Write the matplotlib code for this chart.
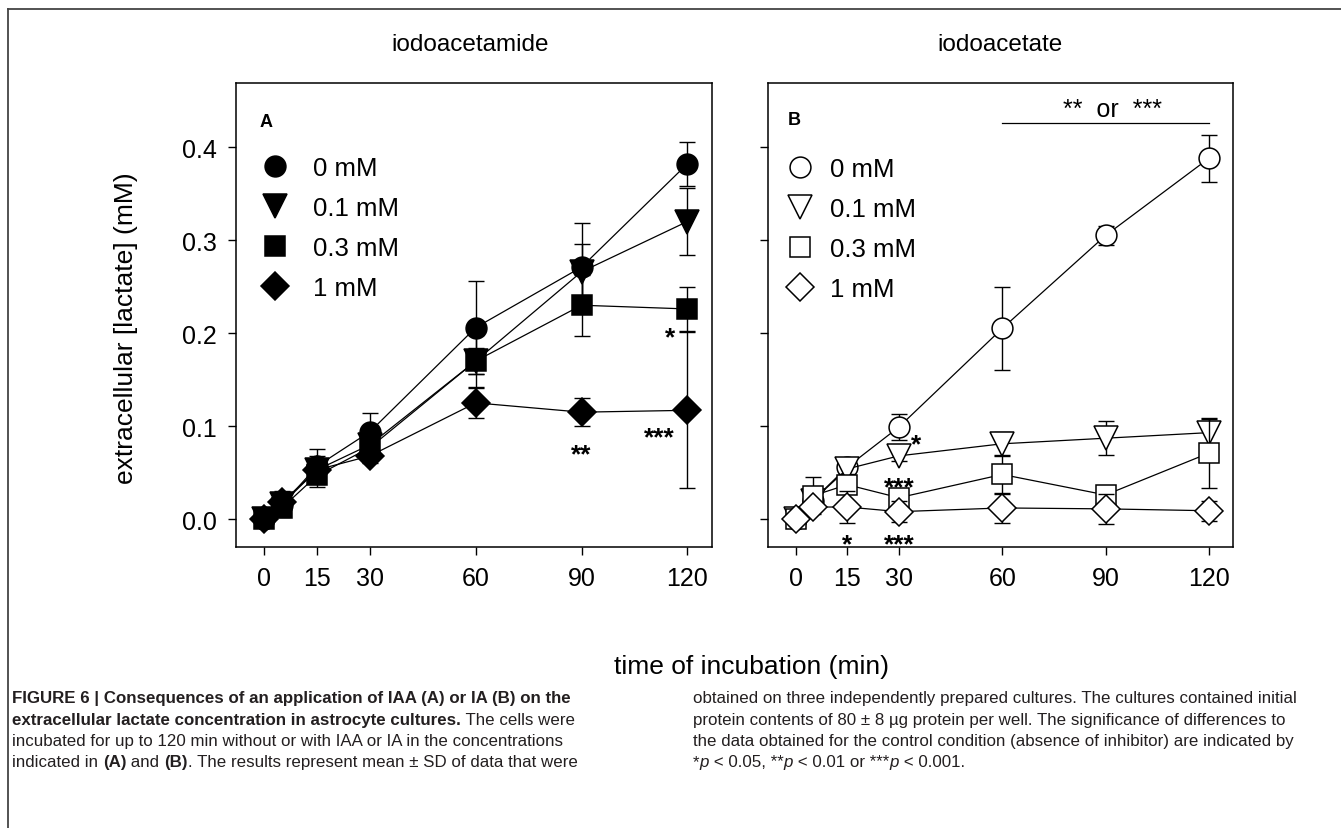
import matplotlib
matplotlib.use("Agg")
import matplotlib.pyplot as plt
from matplotlib.lines import Line2D
import numpy as np

plt.rcParams['font.family'] = ['Liberation Sans', 'DejaVu Sans']

W, H = 1341, 829

# ---------------- data ----------------
time_min = [0, 5, 15, 30, 60, 90, 120]
conc_labels = ["0 mM", "0.1 mM", "0.3 mM", "1 mM"]
x_ticks = [0, 15, 30, 60, 90, 120]
y_ticks = [0.0, 0.1, 0.2, 0.3, 0.4]
y_ticklabels = ["0.0", "0.1", "0.2", "0.3", "0.4"]

# Panel A: iodoacetamide
iaa_0 = [0.0, 0.015, 0.057, 0.094, 0.206, 0.271, 0.382]
iaa_0_sd = [0.0, 0.006, 0.018, 0.020, 0.050, 0.047, 0.024]
iaa_01 = [0.0, 0.016, 0.053, 0.080, 0.170, 0.266, 0.320]
iaa_01_sd = [0.0, 0.012, 0.015, 0.010, 0.014, 0.030, 0.036]
iaa_03 = [0.0, 0.012, 0.047, 0.077, 0.170, 0.230, 0.226]
iaa_03_sd = [0.0, 0.010, 0.012, 0.010, 0.028, 0.033, 0.024]
iaa_1 = [0.0, 0.018, 0.053, 0.068, 0.125, 0.115, 0.117]
iaa_1_sd = [0.0, 0.012, 0.010, 0.008, 0.016, 0.015, 0.084]

# Panel B: iodoacetate
ia_0 = [0.0, 0.020, 0.056, 0.099, 0.205, 0.305, 0.388]
ia_0_sd = [0.0, 0.005, 0.005, 0.014, 0.045, 0.010, 0.025]
ia_01 = [0.0, 0.020, 0.054, 0.068, 0.081, 0.087, 0.093]
ia_01_sd = [0.0, 0.010, 0.005, 0.005, 0.013, 0.018, 0.015]
ia_03 = [0.0, 0.025, 0.037, 0.023, 0.048, 0.026, 0.071]
ia_03_sd = [0.0, 0.020, 0.005, 0.005, 0.021, 0.005, 0.038]
ia_1 = [0.0, 0.013, 0.013, 0.008, 0.012, 0.011, 0.009]
ia_1_sd = [0.0, 0.005, 0.017, 0.011, 0.016, 0.016, 0.011]

# significance annotations (x, y, text)
sig_a = [(115, 0.195, "*"), (90, 0.070, "**"), (112, 0.088, "***")]
sig_b = [(35, 0.080, "*"), (30, 0.034, "***"), (15, -0.027, "*"), (30, -0.027, "***")]
bar_b = (60, 120, 0.426, "**  or  ***")

# ---------------- figure ----------------
fig = plt.figure(figsize=(W / 100, H / 100), dpi=100)


def ax_rect(l, t, r, b):
    return [l / W, 1 - b / H, (r - l) / W, (b - t) / H]


axA = fig.add_axes(ax_rect(236, 84, 712, 548))
axB = fig.add_axes(ax_rect(768, 84, 1233, 548))

markers = ['o', 'v', 's', 'D']
msizes = [15.0, 17.0, 15.0, 14.0]

seriesA = [(iaa_0, iaa_0_sd), (iaa_01, iaa_01_sd), (iaa_03, iaa_03_sd), (iaa_1, iaa_1_sd)]
seriesB = [(ia_0, ia_0_sd), (ia_01, ia_01_sd), (ia_03, ia_03_sd), (ia_1, ia_1_sd)]


def draw_panel(ax, series, filled):
    handles = []
    for i, (vals, sds) in enumerate(series):
        face = 'black' if filled else 'white'
        ax.errorbar(time_min, vals, yerr=sds, fmt='none', ecolor='black',
                    elinewidth=1.0, capsize=6, capthick=1.0, zorder=2 + i * 2)
        ax.plot(time_min, vals, color='black', lw=0.9, marker=markers[i],
                ms=msizes[i], mfc=face, mec='black', mew=1.1,
                zorder=3 + i * 2)
        handles.append(Line2D([], [], ls='none', marker=markers[i], ms=msizes[i],
                              mfc=face, mec='black', mew=1.1))
    ax.set_xlim(-8, 127)
    ax.set_ylim(-0.030, 0.469)
    ax.set_xticks(x_ticks)
    ax.set_yticks(y_ticks)
    ax.tick_params(direction='out', length=6, width=1.0, labelsize=18,
                   top=False, right=False)
    ax.tick_params(axis='x', pad=8)
    ax.tick_params(axis='y', pad=8)
    for s in ax.spines.values():
        s.set_linewidth(1.1)
    return handles


hA = draw_panel(axA, seriesA, True)
hB = draw_panel(axB, seriesB, False)
axA.set_yticklabels(y_ticklabels)
axB.set_yticklabels([])

axA.legend(hA, conc_labels, loc='upper left', bbox_to_anchor=(0.057, 0.843),
           frameon=False, fontsize=18.5, borderpad=0, borderaxespad=0,
           handlelength=0.95, handletextpad=1.0, labelspacing=0.62, numpoints=1)
axB.legend(hB, conc_labels, loc='upper left', bbox_to_anchor=(0.043, 0.841),
           frameon=False, fontsize=18.5, borderpad=0, borderaxespad=0,
           handlelength=0.95, handletextpad=0.68, labelspacing=0.62, numpoints=1)

axA.text(0.05, 0.918, "A", transform=axA.transAxes, fontsize=13,
         fontweight='bold', va='center', ha='left')
axB.text(0.043, 0.922, "B", transform=axB.transAxes, fontsize=13,
         fontweight='bold', va='center', ha='left')

for x, y, s in sig_a:
    axA.text(x, y, s, fontsize=19, fontweight='bold', ha='center', va='center')
for x, y, s in sig_b:
    axB.text(x, y, s, fontsize=19, fontweight='bold', ha='center', va='center')
axB.plot([bar_b[0], bar_b[1]], [bar_b[2], bar_b[2]], color='black', lw=0.9)
axB.text((bar_b[0] + bar_b[1]) / 2 + 2, bar_b[2] + 0.015, bar_b[3], fontsize=18,
         ha='center', va='center')

# titles and shared labels
fig.text(470 / W, 1 - 45 / H, "iodoacetamide", fontsize=17.5, ha='center', va='center')
fig.text(1000 / W, 1 - 45 / H, "iodoacetate", fontsize=17.5, ha='center', va='center')
fig.text(126 / W, 1 - 328 / H, "extracellular [lactate] (mM)", fontsize=19,
         rotation=90, ha='center', va='center')
fig.text(751 / W, 1 - 667 / H, "time of incubation (min)", fontsize=19,
         ha='center', va='center')

# figure frame (top and left edges)
fig.add_artist(Line2D([8 / W, 1.0], [1 - 9.5 / H, 1 - 9.5 / H], color='#444444', lw=1.3))
fig.add_artist(Line2D([8 / W, 8 / W], [0, 1 - 9.5 / H], color='#444444', lw=1.3))

# ---------------- caption ----------------
cap_family = ['Liberation Sans Narrow', 'Liberation Sans', 'DejaVu Sans']
cap_size = 12.2
cap_color = '#231f20'
renderer = fig.canvas.get_renderer()


def seg_width(text, weight, style):
    t = fig.text(0, 0, text + "|", fontsize=cap_size, family=cap_family,
                 fontweight=weight, fontstyle=style)
    t2 = fig.text(0, 0, "|", fontsize=cap_size, family=cap_family,
                  fontweight=weight, fontstyle=style)
    w = t.get_window_extent(renderer).width - t2.get_window_extent(renderer).width
    t.remove()
    t2.remove()
    return w


def draw_line(x_px, y_px, segs):
    x = x_px
    for text, weight, style in segs:
        fig.text(x / W, 1 - y_px / H, text, fontsize=cap_size, family=cap_family,
                 fontweight=weight, fontstyle=style, color=cap_color,
                 ha='left', va='baseline')
        x += seg_width(text, weight, style)


N, B_, I_ = ('normal', 'normal'), ('bold', 'normal'), ('normal', 'italic')
left_lines = [
    [("FIGURE 6 | Consequences of an application of IAA (A) or IA (B) on the",) + B_],
    [("extracellular lactate concentration in astrocyte cultures.",) + B_,
     (" The cells were",) + N],
    [("incubated for up to 120 min without or with IAA or IA in the concentrations",) + N],
    [("indicated in ",) + N, ("(A)",) + B_, (" and ",) + N, ("(B)",) + B_,
     (". The results represent mean \u00b1 SD of data that were",) + N],
]
right_lines = [
    [("obtained on three independently prepared cultures. The cultures contained initial",) + N],
    [("protein contents of 80 \u00b1 8 \u00b5g protein per well. The significance of differences to",) + N],
    [("the data obtained for the control condition (absence of inhibitor) are indicated by",) + N],
    [("*",) + N, ("p",) + I_, (" < 0.05, **",) + N, ("p",) + I_, (" < 0.01 or ***",) + N,
     ("p",) + I_, (" < 0.001.",) + N],
]
baselines = [703, 725, 746, 767]
for yb, segs in zip(baselines, left_lines):
    draw_line(12, yb, segs)
for yb, segs in zip(baselines, right_lines):
    draw_line(693, yb, segs)

fig.savefig("out.png", dpi=100)
